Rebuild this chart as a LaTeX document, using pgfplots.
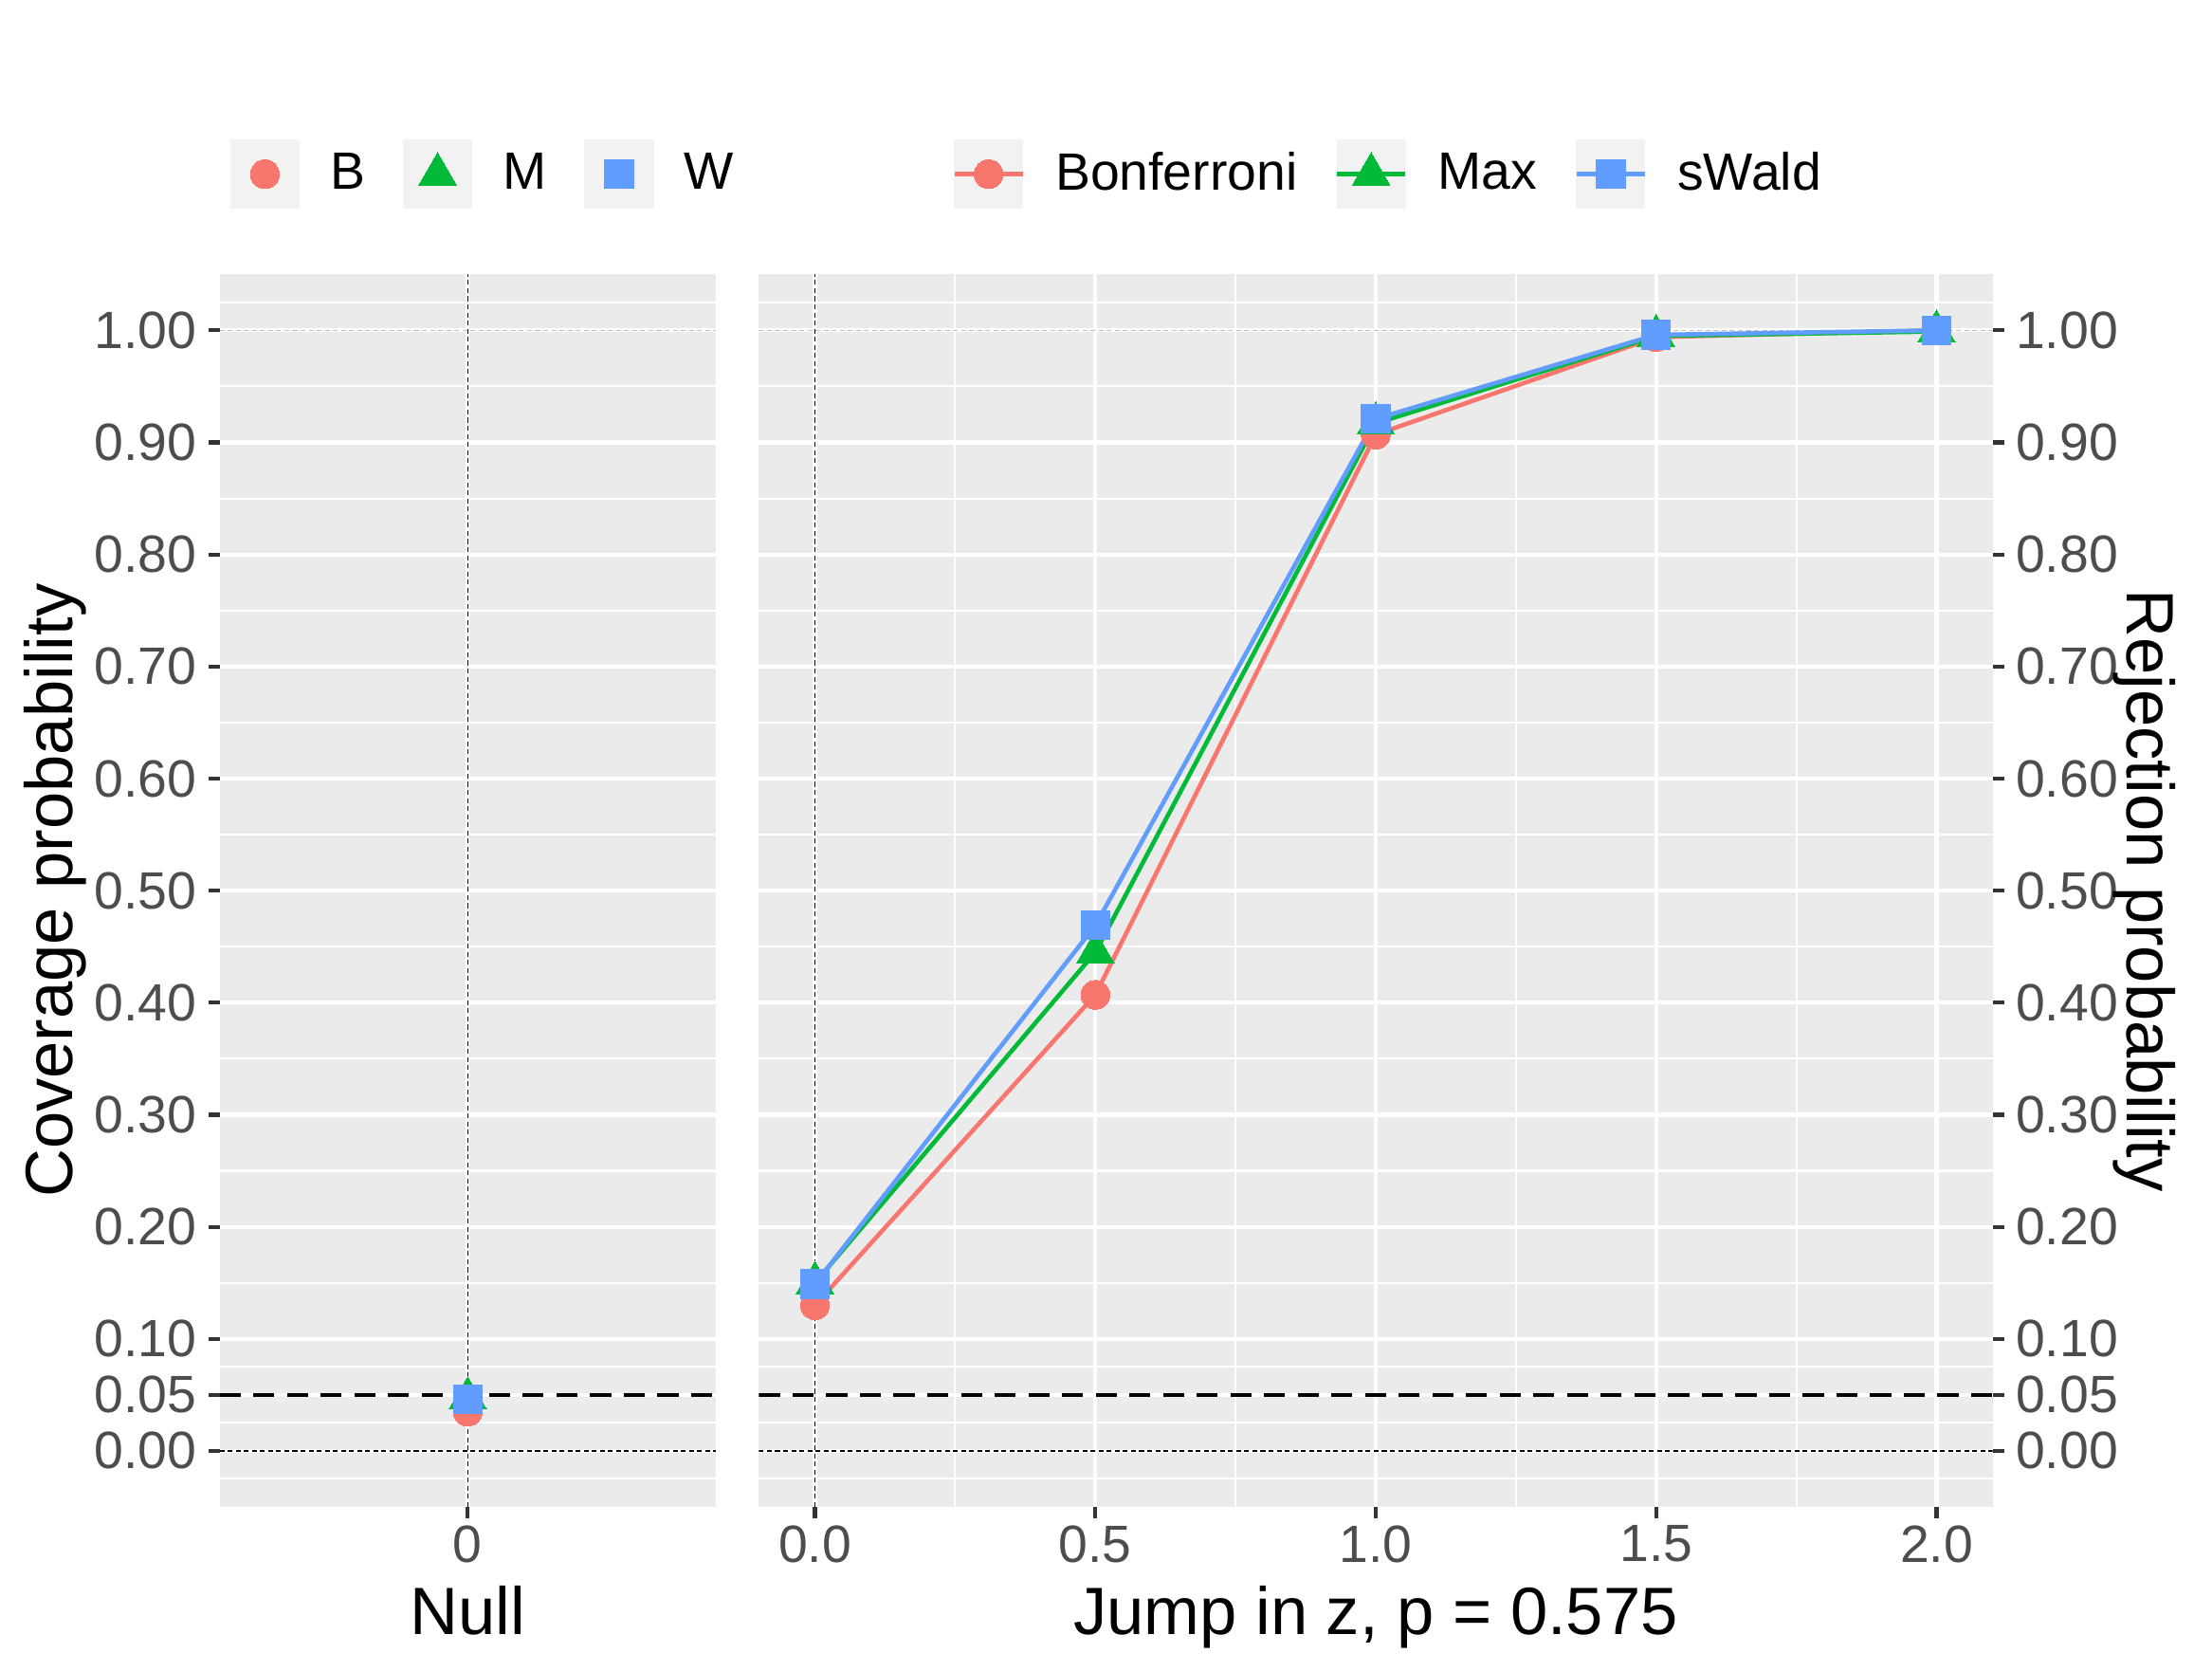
\documentclass[border=0pt]{standalone}
\usepackage{fontspec}
\setmainfont{Liberation Sans}
\usepackage{pgfplots}
\pgfplotsset{compat=1.18}
\definecolor{cB}{HTML}{F8766D}
\definecolor{cM}{HTML}{00BA38}
\definecolor{cW}{HTML}{619CFF}
\definecolor{panelbg}{HTML}{EBEBEB}
\definecolor{legbg}{HTML}{F2F2F2}
\definecolor{ticklab}{HTML}{4D4D4D}
\definecolor{tickcol}{HTML}{333333}

\pgfplotsset{
  gg/.style={
    scale only axis,
    height=281.78pt,
    ymin=-0.05, ymax=1.05,
    axis background/.style={fill=panelbg},
    axis line style={draw=none},
    grid=both,
    major grid style={white, line width=0.9pt},
    minor grid style={white, line width=0.45pt},
    ytick={0,0.05,0.1,0.2,0.3,0.4,0.5,0.6,0.7,0.8,0.9,1.0},
    yticklabels={0.00,0.05,0.10,0.20,0.30,0.40,0.50,0.60,0.70,0.80,0.90,1.00},
    minor ytick={-0.025,0.025,0.075,0.15,0.25,0.35,0.45,0.55,0.65,0.75,0.85,0.95,1.025},
    tick align=outside,
    major tick length=2.6pt,
    minor tick length=0pt,
    tick style={color=tickcol, line width=0.9pt},
    ticklabel style={font=\fontsize{12}{14}\selectfont, color=ticklab, inner sep=0pt},
    yticklabel shift=2.5pt,
    xticklabel shift=1.5pt,
    xtick pos=bottom,
    label style={font=\fontsize{15.3}{18}\selectfont, color=black, inner sep=0pt},
    xlabel style={at={(axis description cs:0.5,-0.1038)}, anchor=base},
    legend columns=3,
    legend style={draw=none, fill=none, inner sep=0pt, outer sep=0pt,
      font=\fontsize{12}{14}\selectfont, cells={anchor=west}, nodes={inner sep=0pt},
      /tikz/every odd column/.append style={column sep=7pt},
      /tikz/every even column/.append style={column sep=8.6pt}},
  },
  markleg/.style={legend image code/.code={
      \fill[legbg] (0pt,-7.75pt) rectangle (15.5pt,7.75pt);
      \draw[mark repeat=2,mark phase=2,##1] plot coordinates {(0pt,0pt) (7.75pt,0pt) (15.5pt,0pt)};}},
  lineleg/.style={legend image code/.code={
      \fill[legbg] (0pt,-7.75pt) rectangle (15.5pt,7.75pt);
      \draw[line width=1pt,#1] (0pt,0pt) -- (15.5pt,0pt);
      \draw[mark repeat=2,mark phase=2,##1] plot coordinates {(0pt,0pt) (7.75pt,0pt) (15.5pt,0pt)};}},
  mB/.style={only marks, mark=*, mark size=3.3pt, mark options={fill=cB, draw=cB, line width=0pt}},
  mM/.style={only marks, mark=triangle*, mark size=4.95pt, mark options={fill=cM, draw=cM, line width=0pt}},
  mW/.style={only marks, mark=square*, mark size=3.3pt, mark options={fill=cW, draw=cW, line width=0pt}},
  dotl/.style={black, line width=0.35pt, dash pattern=on 1.1pt off 0.75pt, forget plot},
  dashl/.style={black, line width=0.85pt, dash pattern=on 4.8pt off 2.9pt, forget plot},
  faintl/.style={black!25, line width=0.35pt, dash pattern=on 1.1pt off 0.75pt, forget plot},
}

\pgfplotstableread{
x B M W
0 0.035 0.047 0.046
}\nulltab

\pgfplotstableread{
x B M W
0.0 0.130 0.150 0.149
0.5 0.407 0.445 0.469
1.0 0.907 0.917 0.921
1.5 0.994 0.995 0.996
2.0 1.000 0.999 1.000
}\jumptab

\begin{document}
\begin{tikzpicture}
\useasboundingbox (0pt,0pt) rectangle (505.8pt,382pt);

% ---------- Left panel: Null ----------
\begin{axis}[gg,
  at={(50.23pt,37.5pt)}, anchor=south west,
  width=113.45pt,
  xmin=-1, xmax=1,
  xtick={0}, xticklabels={0},
  ytick pos=left,
  xlabel={Null},
  ylabel={Coverage probability},
  ylabel style={at={(axis description cs:-0.2975,0.5)}, anchor=base},
  legend style={at={(axis description cs:0.021,1.0813)}, anchor=west},
]
\addplot[faintl] coordinates {(-1,1) (1,1)};
\addplot[dashl] coordinates {(-1,0.05) (1,0.05)};
\addplot[dotl] coordinates {(-1,0) (1,0)};
\addplot[mB, markleg] table[x=x, y=B] {\nulltab};
\addplot[mM, markleg] table[x=x, y=M] {\nulltab};
\addplot[mW, markleg] table[x=x, y=W] {\nulltab};
\addplot[dotl] coordinates {(0,-0.05) (0,1.05)};
\legend{B, M, W}
\end{axis}

% ---------- Right panel: Jump ----------
\begin{axis}[gg,
  at={(173.53pt,37.5pt)}, anchor=south west,
  width=282.1pt,
  xmin=-0.1, xmax=2.1,
  xtick={0,0.5,1,1.5,2}, xticklabels={0.0,0.5,1.0,1.5,2.0},
  minor xtick={0.25,0.75,1.25,1.75},
  ytick pos=right, yticklabel pos=right,
  xlabel={Jump in z, p = 0.575},
  ylabel={Rejection probability},
  ylabel style={at={(axis description cs:1.1087,0.5)}, anchor=base, rotate=180},
  legend style={at={(axis description cs:0.157,1.0813)}, anchor=west},
]
\addplot[faintl] coordinates {(-0.1,1) (2.1,1)};
\addplot[dashl] coordinates {(-0.1,0.05) (2.1,0.05)};
\addplot[dotl] coordinates {(-0.1,0) (2.1,0)};
\addplot[cB, line width=1pt, forget plot] table[x=x, y=B] {\jumptab};
\addplot[cM, line width=1pt, forget plot] table[x=x, y=M] {\jumptab};
\addplot[cW, line width=1pt, forget plot] table[x=x, y=W] {\jumptab};
\addplot[mB, lineleg=cB] table[x=x, y=B] {\jumptab};
\addplot[mM, lineleg=cM] table[x=x, y=M] {\jumptab};
\addplot[mW, lineleg=cW] table[x=x, y=W] {\jumptab};
\addplot[dotl] coordinates {(0,-0.05) (0,1.05)};
\legend{Bonferroni, Max, sWald}
\end{axis}
\end{tikzpicture}
\end{document}
